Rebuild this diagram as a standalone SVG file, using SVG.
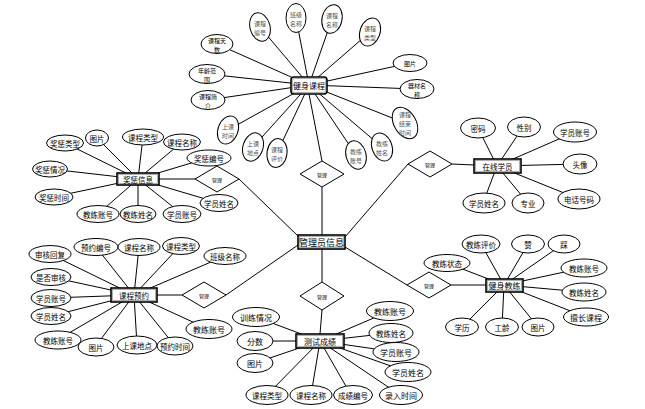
<svg xmlns="http://www.w3.org/2000/svg" width="645" height="409" viewBox="0 0 645 409">
<style>
.bg{fill:#fff}
.c line{stroke:#000;stroke-width:1}
.e{fill:#fff;stroke:#000;stroke-width:1}
.r{fill:#fff;stroke:#000;stroke-width:1}
.o{fill:#fff;stroke:#000;stroke-width:1.6}
.i{fill:none;stroke:#999;stroke-width:0.8}
text{font-family:"Noto Sans CJK SC","Noto Sans",sans-serif;font-size:7.5px;fill:#000;text-anchor:middle;dominant-baseline:central}
.s{font-size:6px;fill:#555}
.t{font-size:6px}
.d{font-size:5px}
.n{font-size:8px}
.m{font-size:9px}
</style>
<rect class="bg" x="0" y="0" width="645" height="409"/>
<g class="c" id="connectors">
<line x1="309" y1="85" x2="260" y2="27"/><line x1="309" y1="85" x2="296" y2="18"/><line x1="309" y1="85" x2="332" y2="19"/><line x1="309" y1="85" x2="370" y2="32"/><line x1="309" y1="85" x2="217" y2="44"/><line x1="309" y1="85" x2="207" y2="74"/><line x1="309" y1="85" x2="208" y2="100"/><line x1="309" y1="85" x2="410" y2="63"/><line x1="309" y1="85" x2="416" y2="89"/><line x1="309" y1="85" x2="228" y2="130"/><line x1="309" y1="85" x2="253" y2="147"/><line x1="309" y1="85" x2="277" y2="153"/><line x1="309" y1="85" x2="356" y2="155"/><line x1="309" y1="85" x2="382" y2="147"/><line x1="309" y1="85" x2="405" y2="123"/>
<line x1="138" y1="179" x2="65" y2="143"/><line x1="138" y1="179" x2="97" y2="138"/><line x1="138" y1="179" x2="143" y2="137"/><line x1="138" y1="179" x2="182" y2="142"/><line x1="138" y1="179" x2="208" y2="158"/><line x1="138" y1="179" x2="50" y2="169"/><line x1="138" y1="179" x2="53" y2="197"/><line x1="138" y1="179" x2="98" y2="214"/><line x1="138" y1="179" x2="138" y2="214"/><line x1="138" y1="179" x2="182" y2="214"/><line x1="138" y1="179" x2="219" y2="203"/>
<line x1="134" y1="295" x2="50" y2="254"/><line x1="134" y1="295" x2="96" y2="247"/><line x1="134" y1="295" x2="139" y2="247"/><line x1="134" y1="295" x2="180" y2="246"/><line x1="134" y1="295" x2="225" y2="256"/><line x1="134" y1="295" x2="51" y2="277"/><line x1="134" y1="295" x2="51" y2="298"/><line x1="134" y1="295" x2="51" y2="316"/><line x1="134" y1="295" x2="57" y2="340"/><line x1="134" y1="295" x2="95" y2="347"/><line x1="134" y1="295" x2="137" y2="345"/><line x1="134" y1="295" x2="175" y2="346"/><line x1="134" y1="295" x2="208" y2="329"/>
<line x1="320" y1="341" x2="256" y2="317"/><line x1="320" y1="341" x2="255" y2="341"/><line x1="320" y1="341" x2="255" y2="363"/><line x1="320" y1="341" x2="390" y2="311"/><line x1="320" y1="341" x2="391" y2="333"/><line x1="320" y1="341" x2="396" y2="352"/><line x1="320" y1="341" x2="408" y2="372"/><line x1="320" y1="341" x2="267" y2="395"/><line x1="320" y1="341" x2="311" y2="395"/><line x1="320" y1="341" x2="351" y2="395"/><line x1="320" y1="341" x2="400" y2="395"/>
<line x1="497" y1="166" x2="478" y2="128"/><line x1="497" y1="166" x2="523" y2="127"/><line x1="497" y1="166" x2="575" y2="132"/><line x1="497" y1="166" x2="580" y2="164"/><line x1="497" y1="166" x2="579" y2="199"/><line x1="497" y1="166" x2="483" y2="203"/><line x1="497" y1="166" x2="528" y2="203"/>
<line x1="504" y1="285" x2="447" y2="263"/><line x1="504" y1="285" x2="481" y2="244"/><line x1="504" y1="285" x2="528" y2="244"/><line x1="504" y1="285" x2="563" y2="244"/><line x1="504" y1="285" x2="583" y2="268"/><line x1="504" y1="285" x2="583" y2="292"/><line x1="504" y1="285" x2="586" y2="317"/><line x1="504" y1="285" x2="462" y2="327"/><line x1="504" y1="285" x2="502" y2="327"/><line x1="504" y1="285" x2="538" y2="327"/>
<line x1="322" y1="161" x2="309" y2="94"/><line x1="322" y1="187" x2="322" y2="235"/>
<line x1="159" y1="179" x2="196" y2="179"/><line x1="239" y1="179" x2="298" y2="236"/>
<line x1="157" y1="295" x2="182" y2="295"/><line x1="226" y1="295" x2="298" y2="245"/>
<line x1="322" y1="249" x2="322" y2="282"/><line x1="322" y1="310" x2="320" y2="334"/>
<line x1="345" y1="237" x2="408" y2="164"/><line x1="452" y1="164" x2="474" y2="165"/>
<line x1="345" y1="247" x2="407" y2="285"/><line x1="451" y1="285" x2="486" y2="285"/>
</g>
<g id="rel-top"><polygon class="r" points="322,161 344,174 322,187 300,174"/><text class="d" x="322" y="174">管理</text></g>
<g id="rel-lefttop"><polygon class="r" points="217,166 239,179 217,192 195,179"/><text class="d" x="217" y="179">管理</text></g>
<g id="rel-leftbottom"><polygon class="r" points="204,282 226,295 204,308 182,295"/><text class="d" x="204" y="295">管理</text></g>
<g id="rel-bottom"><polygon class="r" points="322,282 344,296 322,310 300,296"/><text class="d" x="322" y="296">管理</text></g>
<g id="rel-righttop"><polygon class="r" points="430,151 452,164 430,177 408,164"/><text class="d" x="430" y="164">管理</text></g>
<g id="rel-rightbottom"><polygon class="r" points="429,272 451,285 429,298 407,285"/><text class="d" x="429" y="285">管理</text></g>
<g id="admin"><rect class="o" x="298" y="235" width="47" height="14"/><rect class="i" x="299.5" y="236.5" width="44" height="11"/><text class="m" x="321.5" y="242">管理员信息</text></g>
<g id="course"><rect class="o" x="291" y="77" width="36" height="17" rx="3"/><rect class="i" x="292.5" y="78.5" width="33" height="14" rx="2"/><text class="n" x="309" y="85.5">健身课程</text></g>
<g id="reward"><rect class="o" x="117" y="173" width="42" height="12"/><rect class="i" x="118.5" y="174.5" width="39" height="9"/><text x="138" y="179">奖惩信息</text></g>
<g id="booking"><rect class="o" x="111" y="288" width="46" height="14"/><rect class="i" x="112.5" y="289.5" width="43" height="11"/><text x="134" y="295">课程预约</text></g>
<g id="score"><rect class="o" x="296" y="334" width="48" height="14"/><rect class="i" x="297.5" y="335.5" width="45" height="11"/><text class="n" x="320" y="341">测试成绩</text></g>
<g id="member"><rect class="o" x="474" y="159" width="47" height="14"/><rect class="i" x="475.5" y="160.5" width="44" height="11"/><text x="497.5" y="166">在线学员</text></g>
<g id="coach"><rect class="o" x="486" y="279" width="37" height="13"/><rect class="i" x="487.5" y="280.5" width="34" height="10"/><text class="n" x="504.5" y="285.5">健身教练</text></g>
<g id="course-attrs">
<g id="c1"><ellipse class="e" cx="260" cy="27" rx="10" ry="14.5" transform="rotate(-15 260 27)"/><text class="s"><tspan x="260" y="22.5">课程</tspan><tspan x="260" y="31.5">编号</tspan></text></g>
<g id="c2"><ellipse class="e" cx="296" cy="18" rx="10" ry="14.5"/><text class="s"><tspan x="296" y="13.5">班级</tspan><tspan x="296" y="22.5">名称</tspan></text></g>
<g id="c3"><ellipse class="e" cx="332" cy="19" rx="10" ry="14.5" transform="rotate(12 332 19)"/><text class="s"><tspan x="332" y="14.5">课程</tspan><tspan x="332" y="23.5">名称</tspan></text></g>
<g id="c4"><ellipse class="e" cx="370" cy="32" rx="10" ry="14.5" transform="rotate(20 370 32)"/><text class="s"><tspan x="370" y="27.5">课程</tspan><tspan x="370" y="36.5">类型</tspan></text></g>
<g id="c5"><ellipse class="e" cx="217" cy="44" rx="16" ry="9.5"/><text class="t"><tspan x="217" y="39.5">课程天</tspan><tspan x="217" y="48.5">数</tspan></text></g>
<g id="c6"><ellipse class="e" cx="207" cy="74" rx="18" ry="9.5"/><text class="t"><tspan x="207" y="69.5">年龄范</tspan><tspan x="207" y="78.5">围</tspan></text></g>
<g id="c7"><ellipse class="e" cx="208" cy="100" rx="17" ry="9.5"/><text class="t"><tspan x="208" y="95.5">课程简</tspan><tspan x="208" y="104.5">介</tspan></text></g>
<g id="c8"><ellipse class="e" cx="410" cy="63" rx="17" ry="8.5"/><text class="t" x="410" y="63">图片</text></g>
<g id="c9"><ellipse class="e" cx="417" cy="89" rx="17" ry="9.5"/><text class="t"><tspan x="417" y="84.5">器材名</tspan><tspan x="417" y="93.5">称</tspan></text></g>
<g id="c10"><ellipse class="e" cx="228" cy="130" rx="10" ry="14.5" transform="rotate(20 228 130)"/><text class="s"><tspan x="228" y="125.5">上课</tspan><tspan x="228" y="134.5">时间</tspan></text></g>
<g id="c11"><ellipse class="e" cx="253" cy="147" rx="10" ry="14.5" transform="rotate(18 253 147)"/><text class="s"><tspan x="253" y="142.5">上课</tspan><tspan x="253" y="151.5">地点</tspan></text></g>
<g id="c12"><ellipse class="e" cx="277" cy="153" rx="10" ry="14.5" transform="rotate(8 277 153)"/><text class="s"><tspan x="277" y="148.5">课程</tspan><tspan x="277" y="157.5">评价</tspan></text></g>
<g id="c13"><ellipse class="e" cx="356" cy="155" rx="10" ry="14.5" transform="rotate(-15 356 155)"/><text class="s"><tspan x="356" y="150.5">教练</tspan><tspan x="356" y="159.5">账号</tspan></text></g>
<g id="c14"><ellipse class="e" cx="382" cy="147" rx="10" ry="14.5" transform="rotate(-20 382 147)"/><text class="s"><tspan x="382" y="142.5">教练</tspan><tspan x="382" y="151.5">姓名</tspan></text></g>
<g id="c15"><ellipse class="e" cx="405" cy="123" rx="11" ry="17" transform="rotate(-30 405 123)"/><text class="s"><tspan x="405" y="114">课程</tspan><tspan x="405" y="123">结束</tspan><tspan x="405" y="132">时间</tspan></text></g>
</g>
<g id="reward-attrs">
<g id="r1"><ellipse class="e" cx="65" cy="143" rx="18.5" ry="8"/><text x="65" y="143">奖惩类型</text></g>
<g id="r2"><ellipse class="e" cx="97" cy="138" rx="11.5" ry="8"/><text x="97" y="138">图片</text></g>
<g id="r3"><ellipse class="e" cx="143" cy="137" rx="20.5" ry="8"/><text x="143" y="137">课程类型</text></g>
<g id="r4"><ellipse class="e" cx="182" cy="142" rx="18.5" ry="8"/><text x="182" y="142">课程名称</text></g>
<g id="r5"><ellipse class="e" cx="209" cy="158" rx="22" ry="8"/><text x="209" y="158">奖惩编号</text></g>
<g id="r6"><ellipse class="e" cx="50" cy="169" rx="17.5" ry="8"/><text x="50" y="169">奖惩情况</text></g>
<g id="r7"><ellipse class="e" cx="54" cy="197" rx="19" ry="8"/><text x="54" y="197">奖惩时间</text></g>
<g id="r8"><ellipse class="e" cx="98" cy="214" rx="21" ry="8.5"/><text x="98" y="214">教练账号</text></g>
<g id="r9"><ellipse class="e" cx="138" cy="214" rx="18" ry="8.5"/><text x="138" y="214">教练姓名</text></g>
<g id="r10"><ellipse class="e" cx="182" cy="214" rx="19" ry="8.5"/><text x="182" y="214">学员账号</text></g>
<g id="r11"><ellipse class="e" cx="219" cy="203" rx="19" ry="8.5"/><text x="219" y="203">学员姓名</text></g>
</g>
<g id="booking-attrs">
<g id="b1"><ellipse class="e" cx="50" cy="254" rx="21" ry="8.5"/><text x="50" y="254">审核回复</text></g>
<g id="b2"><ellipse class="e" cx="96" cy="247" rx="22" ry="8.5"/><text x="96" y="247">预约编号</text></g>
<g id="b3"><ellipse class="e" cx="139" cy="247" rx="21" ry="8.5"/><text x="139" y="247">课程名称</text></g>
<g id="b4"><ellipse class="e" cx="181" cy="246" rx="18.5" ry="8.5"/><text x="181" y="246">课程类型</text></g>
<g id="b5"><ellipse class="e" cx="225" cy="256" rx="21" ry="8.5"/><text x="225" y="256">班级名称</text></g>
<g id="b6"><ellipse class="e" cx="51" cy="277" rx="20" ry="8.5"/><text x="51" y="277">是否审核</text></g>
<g id="b7"><ellipse class="e" cx="51" cy="298" rx="20" ry="8.5"/><text x="51" y="298">学员账号</text></g>
<g id="b8"><ellipse class="e" cx="51" cy="316" rx="20" ry="8.5"/><text x="51" y="316">学员姓名</text></g>
<g id="b9"><ellipse class="e" cx="58" cy="340" rx="23" ry="9"/><text x="58" y="340">教练账号</text></g>
<g id="b10"><ellipse class="e" cx="96" cy="347" rx="18" ry="9"/><text x="96" y="347">图片</text></g>
<g id="b11"><ellipse class="e" cx="137" cy="345" rx="20" ry="9"/><text x="137" y="345">上课地点</text></g>
<g id="b12"><ellipse class="e" cx="175" cy="346" rx="18" ry="9"/><text x="175" y="346">预约时间</text></g>
<g id="b13"><ellipse class="e" cx="209" cy="329" rx="23" ry="9.5"/><text class="n" x="209" y="329">教练账号</text></g>
</g>
<g id="score-attrs">
<g id="s1"><ellipse class="e" cx="256" cy="317" rx="23.5" ry="9.5"/><text class="n" x="256" y="317">训练情况</text></g>
<g id="s2"><ellipse class="e" cx="255" cy="341" rx="18" ry="9.5"/><text class="n" x="255" y="341">分数</text></g>
<g id="s3"><ellipse class="e" cx="255" cy="363" rx="18" ry="9.5"/><text class="n" x="255" y="363">图片</text></g>
<g id="s4"><ellipse class="e" cx="390" cy="311" rx="23.5" ry="9.5"/><text class="n" x="390" y="311">教练账号</text></g>
<g id="s5"><ellipse class="e" cx="391" cy="333" rx="22" ry="9.5"/><text x="391" y="333">教练姓名</text></g>
<g id="s6"><ellipse class="e" cx="396" cy="352" rx="23" ry="9.5"/><text class="n" x="396" y="352">学员账号</text></g>
<g id="s7"><ellipse class="e" cx="408" cy="372" rx="23" ry="9.5"/><text class="n" x="408" y="372">学员姓名</text></g>
<g id="s8"><ellipse class="e" cx="267" cy="395" rx="21" ry="9.5"/><text x="267" y="395">课程类型</text></g>
<g id="s9"><ellipse class="e" cx="311" cy="395" rx="21" ry="9.5"/><text x="311" y="395">课程名称</text></g>
<g id="s10"><ellipse class="e" cx="353" cy="395" rx="19.5" ry="9.5"/><text x="353" y="395">成绩编号</text></g>
<g id="s11"><ellipse class="e" cx="401" cy="395" rx="21.5" ry="9.5"/><text class="n" x="401" y="395">录入时间</text></g>
</g>
<g id="member-attrs">
<g id="m1"><ellipse class="e" cx="478" cy="128" rx="17.5" ry="10"/><text x="478" y="128">密码</text></g>
<g id="m2"><ellipse class="e" cx="524" cy="127" rx="16.5" ry="10"/><text x="524" y="127">性别</text></g>
<g id="m3"><ellipse class="e" cx="575" cy="132" rx="21.5" ry="10"/><text x="575" y="132">学员账号</text></g>
<g id="m4"><ellipse class="e" cx="580" cy="164" rx="17" ry="10"/><text x="580" y="164">头像</text></g>
<g id="m5"><ellipse class="e" cx="579" cy="199" rx="21" ry="10"/><text x="579" y="199">电话号码</text></g>
<g id="m6"><ellipse class="e" cx="484" cy="203" rx="21" ry="10"/><text x="484" y="203">学员姓名</text></g>
<g id="m7"><ellipse class="e" cx="528" cy="203" rx="16" ry="10"/><text x="528" y="203">专业</text></g>
</g>
<g id="coach-attrs">
<g id="k1"><ellipse class="e" cx="447" cy="263" rx="23" ry="8.5"/><text x="447" y="263">教练状态</text></g>
<g id="k2"><ellipse class="e" cx="481" cy="244" rx="19" ry="9"/><text x="481" y="244">教练评价</text></g>
<g id="k3"><ellipse class="e" cx="528" cy="244" rx="16.5" ry="9"/><text x="528" y="244">赞</text></g>
<g id="k4"><ellipse class="e" cx="564" cy="244" rx="16" ry="9"/><text x="564" y="244">踩</text></g>
<g id="k5"><ellipse class="e" cx="584" cy="268" rx="23" ry="9"/><text x="584" y="268">教练账号</text></g>
<g id="k6"><ellipse class="e" cx="584" cy="292" rx="22" ry="9"/><text x="584" y="292">教练姓名</text></g>
<g id="k7"><ellipse class="e" cx="586" cy="317" rx="22.5" ry="9"/><text class="n" x="586" y="317">擅长课程</text></g>
<g id="k8"><ellipse class="e" cx="462" cy="327" rx="16.5" ry="9"/><text x="462" y="327">学历</text></g>
<g id="k9"><ellipse class="e" cx="502" cy="327" rx="16.5" ry="9"/><text x="502" y="327">工龄</text></g>
<g id="k10"><ellipse class="e" cx="538" cy="327" rx="16" ry="9"/><text x="538" y="327">图片</text></g>
</g>
</svg>
